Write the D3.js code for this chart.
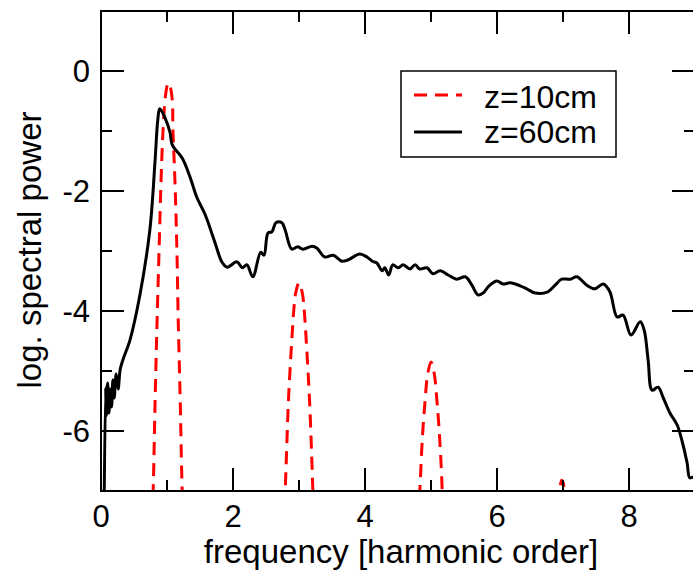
<!DOCTYPE html>
<html>
<head>
<meta charset="utf-8">
<script src="https://d3js.org/d3.v7.min.js"></script>
<style>
  body { margin: 0; background: #fff; }
  text { font-family: "Liberation Sans", Arial, sans-serif; }
</style>
</head>
<body>
<script>

// z=60cm spectrum (solid black)
var z60x = [0.045, 0.07, 0.08, 0.10, 0.12, 0.14, 0.16, 0.18, 0.20, 0.23, 0.26, 0.29, 0.33, 0.44, 0.59, 0.74, 0.82, 0.86, 0.89, 0.97, 1.045, 1.08, 1.23, 1.35, 1.45, 1.58, 1.73, 1.83, 1.91, 2.06, 2.14, 2.21, 2.30, 2.42, 2.47, 2.53, 2.59, 2.65, 2.74, 2.79, 2.89, 2.98, 3.06, 3.20, 3.27, 3.39, 3.52, 3.65, 3.74, 3.92, 4.03, 4.11, 4.18, 4.26, 4.30, 4.36, 4.42, 4.50, 4.58, 4.68, 4.76, 4.83, 4.94, 5.03, 5.14, 5.26, 5.39, 5.52, 5.62, 5.71, 5.79, 5.88, 6.00, 6.09, 6.20, 6.35, 6.45, 6.58, 6.77, 6.88, 6.98, 7.11, 7.21, 7.36, 7.48, 7.61, 7.71, 7.82, 7.91, 8.03, 8.17, 8.23, 8.29, 8.35, 8.44, 8.52, 8.62, 8.73, 8.80, 8.88, 8.92, 8.97, 9.02];
var z60y = [-7.5, -5.27, -5.75, -5.2, -5.7, -5.3, -5.6, -5.15, -5.45, -5.05, -5.3, -4.98, -4.82, -4.48, -3.73, -2.65, -1.48, -0.82, -0.63, -0.78, -1.02, -1.23, -1.45, -1.77, -2.1, -2.4, -2.87, -3.18, -3.27, -3.18, -3.28, -3.23, -3.43, -3.02, -3.07, -2.7, -2.68, -2.53, -2.53, -2.65, -2.97, -2.93, -2.97, -2.92, -2.95, -3.1, -3.07, -3.17, -3.15, -3.05, -3.1, -3.17, -3.2, -3.33, -3.28, -3.4, -3.23, -3.28, -3.23, -3.3, -3.23, -3.3, -3.28, -3.38, -3.33, -3.4, -3.47, -3.43, -3.57, -3.73, -3.7, -3.58, -3.5, -3.55, -3.53, -3.58, -3.63, -3.7, -3.68, -3.57, -3.47, -3.47, -3.43, -3.57, -3.63, -3.55, -3.68, -4.1, -4.07, -4.4, -4.18, -4.32, -4.82, -5.32, -5.27, -5.45, -5.7, -5.9, -6.15, -6.53, -6.78, -6.77, -6.9];

// z=10cm spectrum (red dashed), runs below the axis between harmonics
var z10x = [0.74, 0.79, 0.82, 0.85, 0.88, 0.91, 0.94, 0.97, 1.0, 1.015, 1.045, 1.08, 1.09, 1.12, 1.15, 1.17, 1.2, 1.23, 1.28, 2.72, 2.79, 2.84, 2.89, 2.92, 2.95, 3.0, 3.05, 3.08, 3.11, 3.16, 3.21, 3.25, 4.75, 4.83, 4.87, 4.91, 4.95, 5.0, 5.05, 5.09, 5.13, 5.17, 5.2, 6.8, 6.95, 6.98, 7.0, 7.02, 7.05];
var z10y = [-8.5, -7.0, -5.48, -4.15, -2.98, -1.82, -0.98, -0.48, -0.25, -0.2, -0.25, -0.48, -0.98, -1.82, -2.98, -4.15, -5.48, -7.0, -8.5, -8.5, -7.0, -5.5, -4.5, -4.0, -3.7, -3.53, -3.7, -4.0, -4.5, -5.5, -7.0, -8.5, -8.5, -7.0, -6.1, -5.5, -5.05, -4.85, -5.05, -5.5, -6.1, -7.0, -8.5, -8.5, -7.0, -6.82, -6.85, -7.0, -8.5];

var xMajor = [0, 2, 4, 6, 8];
var xMinor = [1, 3, 5, 7];
var yMajor = [-6, -4, -2, 0];
var yMinor = [-5, -3, -1];

var legendNames = ["z=10cm", "z=60cm"];

var W = 693, H = 575;
var pL = 101, pR = 695, pT = 11, pB = 491;

var x = d3.scaleLinear().domain([0, 9]).range([pL, pR]);
var y = d3.scaleLinear().domain([-7, 1]).range([pB, pT]);

var svg = d3.select("body").append("svg")
    .attr("width", W)
    .attr("height", H);

svg.append("defs").append("clipPath")
    .attr("id", "plotclip")
  .append("rect")
    .attr("x", pL)
    .attr("y", pT)
    .attr("width", pR - pL)
    .attr("height", pB - pT);

var line = d3.line()
    .x(function(d) { return x(d[0]); })
    .y(function(d) { return y(d[1]); })
    .curve(d3.curveCatmullRom.alpha(0.5));

var plot = svg.append("g").attr("clip-path", "url(#plotclip)");

plot.append("path")
    .datum(z10x.map(function(v, i) { return [v, z10y[i]]; }))
    .attr("d", line)
    .attr("fill", "none")
    .attr("stroke", "#ff0000")
    .attr("stroke-width", 3)
    .attr("stroke-dasharray", "13,8");

plot.append("path")
    .datum(z60x.map(function(v, i) { return [v, z60y[i]]; }))
    .attr("d", line)
    .attr("fill", "none")
    .attr("stroke", "#000")
    .attr("stroke-width", 3)
    .attr("stroke-linejoin", "round");

// frame and inward ticks on all four sides
var frame = svg.append("g").attr("stroke", "#000").attr("stroke-width", 2);

frame.append("rect")
    .attr("x", pL)
    .attr("y", pT)
    .attr("width", pR - pL)
    .attr("height", pB - pT)
    .attr("fill", "none");

function xTicks(vals, len) {
  vals.forEach(function(v) {
    frame.append("line").attr("x1", x(v)).attr("x2", x(v)).attr("y1", pB).attr("y2", pB - len);
    frame.append("line").attr("x1", x(v)).attr("x2", x(v)).attr("y1", pT).attr("y2", pT + len);
  });
}
function yTicks(vals, len) {
  vals.forEach(function(v) {
    frame.append("line").attr("y1", y(v)).attr("y2", y(v)).attr("x1", pL).attr("x2", pL + len);
    frame.append("line").attr("y1", y(v)).attr("y2", y(v)).attr("x1", pR).attr("x2", pR - len);
  });
}
xTicks(xMajor, 23);
xTicks(xMinor, 11);
yTicks(yMajor, 23);
yTicks(yMinor, 11);

svg.selectAll(".xlab")
    .data(xMajor)
  .enter().append("text")
    .attr("class", "xlab")
    .attr("x", function(d) { return x(d); })
    .attr("y", 527)
    .attr("text-anchor", "middle")
    .style("font-size", "31px")
    .text(function(d) { return d; });

svg.selectAll(".ylab")
    .data(yMajor)
  .enter().append("text")
    .attr("class", "ylab")
    .attr("x", 90)
    .attr("y", function(d) { return y(d) + 11; })
    .attr("text-anchor", "end")
    .style("font-size", "31px")
    .text(function(d) { return d === 0 ? "0" : "-" + Math.abs(d); });

svg.append("text")
    .attr("x", 401)
    .attr("y", 563)
    .attr("text-anchor", "middle")
    .style("font-size", "33px")
    .text("frequency [harmonic order]");

svg.append("text")
    .attr("transform", "translate(41,250) rotate(-90)")
    .attr("text-anchor", "middle")
    .style("font-size", "33px")
    .text("log. spectral power");

// legend
var lg = svg.append("g");
lg.append("rect")
    .attr("x", 401).attr("y", 71)
    .attr("width", 215).attr("height", 86)
    .attr("fill", "#fff")
    .attr("stroke", "#000")
    .attr("stroke-width", 1.5);

lg.append("line")
    .attr("x1", 414).attr("x2", 462).attr("y1", 95).attr("y2", 95)
    .attr("stroke", "#ff0000").attr("stroke-width", 3)
    .attr("stroke-dasharray", "13,8");
lg.append("line")
    .attr("x1", 414).attr("x2", 462).attr("y1", 132).attr("y2", 132)
    .attr("stroke", "#000").attr("stroke-width", 3);

lg.selectAll(".lt")
    .data(legendNames)
  .enter().append("text")
    .attr("class", "lt")
    .attr("x", 484)
    .attr("y", function(d, i) { return 108 + i * 35; })
    .style("font-size", "32px")
    .text(function(d) { return d; });

</script>
</body>
</html>
